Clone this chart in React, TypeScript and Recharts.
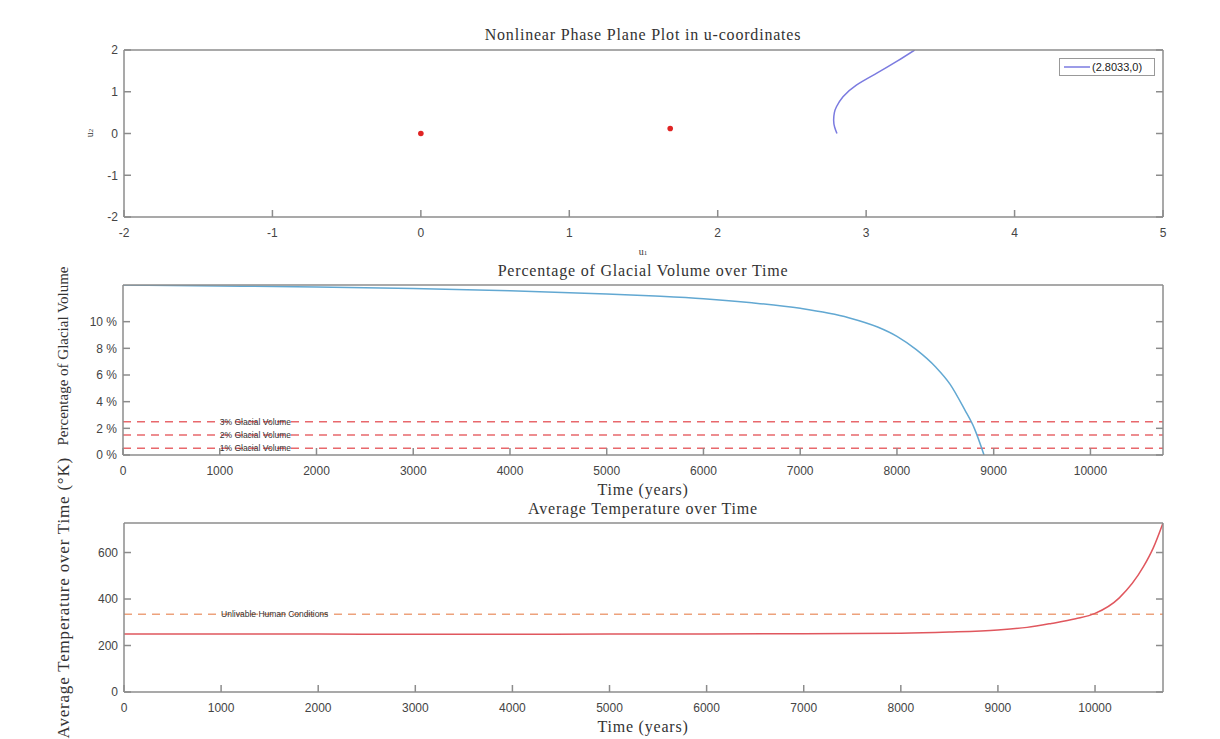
import React from "react";
import {
  ComposedChart,
  Line,
  Scatter,
  XAxis,
  YAxis,
  ReferenceLine,
  ReferenceDot,
} from "recharts";

// phase plane (u-coordinates)
const u1Ticks = [-2, -1, 0, 1, 2, 3, 4, 5];
const u2Ticks = [-2, -1, 0, 1, 2];
const equilibria = [
  { u1: 0, u2: 0 },
  { u1: 1.68, u2: 0.12 },
];
const trajU1 = [2.8033, 2.788, 2.781, 2.786, 2.8, 2.844, 2.934, 3.069, 3.203, 3.327];
const trajU2 = [0, 0.15, 0.32, 0.5, 0.64, 0.88, 1.16, 1.44, 1.72, 2.0];
const trajectory = trajU1.map((u1, i) => ({ u1, u2: trajU2[i] }));
const trajLabel = "(2.8033,0)";

// glacial volume
const yearTicks = [0, 1000, 2000, 3000, 4000, 5000, 6000, 7000, 8000, 9000, 10000];
const volYears = [0, 1000, 2000, 3000, 4000, 5000, 5500, 6000, 6500, 7000, 7500, 7800, 8000, 8200, 8400, 8550, 8700, 8800, 8900];
const volPct = [12.75, 12.68, 12.6, 12.48, 12.32, 12.08, 11.92, 11.72, 11.42, 11.0, 10.3, 9.6, 8.9, 7.9, 6.6, 5.3, 3.4, 2.0, 0.0];
const volume = volYears.map((t, i) => ({ t, v: volPct[i] }));
const pctTicks = [0, 2, 4, 6, 8, 10];
const thresholds = [
  { y: 2.5, label: "3% Glacial Volume" },
  { y: 1.5, label: "2% Glacial Volume" },
  { y: 0.5, label: "1% Glacial Volume" },
];

// temperature
const tempYears = [0, 1000, 2000, 3000, 4000, 5000, 6000, 7000, 8000, 8500, 9000, 9300, 9550, 9800, 10000, 10250, 10500, 10600, 10700];
const tempK = [250, 250, 249, 248, 248, 249, 250, 251, 253, 258, 267, 278, 295, 315, 338, 405, 540, 620, 727];
const temperature = tempYears.map((t, i) => ({ t, k: tempK[i] }));
const tempTicks = [0, 200, 400, 600];
const unlivable = 335;

const axisColor = "#8c8c8c";
const sans = "Liberation Sans, Arial, sans-serif";
const serif = "Liberation Serif, Times New Roman, serif";
const tickStyle = { fill: "#444", fontSize: 12, fontFamily: sans };
const smallLabel = { fontSize: 8.5, fill: "#333", fontFamily: sans };
const blank = () => "";

// MATLAB-style box: labelled bottom/left axes, bare top/right axes, ticks pointing inward
function boxAxes({ xDomain, xTicks, yDomain, yTicks, yFmt, xKey, yKey }: any) {
  return [
    <XAxis key="xb" xAxisId="b" type="number" dataKey={xKey} domain={xDomain} ticks={xTicks} allowDataOverflow
      height={30} tickSize={-7} tickMargin={18} tick={tickStyle} stroke={axisColor} strokeWidth={1.5} />,
    <XAxis key="xt" xAxisId="t" type="number" orientation="top" domain={xDomain} ticks={xTicks} allowDataOverflow
      height={1} tickSize={-7} tickFormatter={blank} stroke={axisColor} strokeWidth={1.5} />,
    <YAxis key="yl" yAxisId="l" type="number" dataKey={yKey} domain={yDomain} ticks={yTicks} allowDataOverflow
      width={40} tickSize={-7} tickMargin={13} tick={tickStyle} tickFormatter={yFmt} stroke={axisColor} strokeWidth={1.5} />,
    <YAxis key="yr" yAxisId="r" type="number" orientation="right" domain={yDomain} ticks={yTicks} allowDataOverflow
      width={1} tickSize={-7} tickFormatter={blank} stroke={axisColor} strokeWidth={1.5} />,
  ];
}

export default function App() {
  return (
    <div style={{ position: "absolute", left: 0, top: 0, width: 1220, height: 739, background: "#fff" }}>
      <div style={{ position: "absolute", left: 0, top: 0 }}>
        <ComposedChart width={1220} height={260} margin={{ top: 49, right: 56, bottom: 13, left: 84 }}>
          {boxAxes({ xDomain: [-2, 5], xTicks: u1Ticks, yDomain: [-2, 2], yTicks: u2Ticks, xKey: "u1", yKey: "u2" })}
          <Scatter name="eq" data={equilibria} xAxisId="b" yAxisId="l" isAnimationActive={false}
            shape={(p: any) => <circle cx={p.cx} cy={p.cy} r={2.8} fill="#e02424" />} />
          <Line name={trajLabel} data={trajectory} dataKey="u2" xAxisId="b" yAxisId="l" type="natural" stroke="#7b7be0"
            strokeWidth={1.5} dot={false} isAnimationActive={false} />
        </ComposedChart>
      </div>

      <div style={{ position: "absolute", left: 1059, top: 58, border: "1px solid #999", background: "#fff", width: 96, height: 18,
        display: "flex", alignItems: "center", boxSizing: "border-box" }}>
        <svg width={32} height={10}>
          <line x1={4} y1={5} x2={30} y2={5} stroke="#7b7be0" strokeWidth={1.5} />
        </svg>
        <span style={{ fontSize: 11, fontFamily: sans, color: "#222" }}>{trajLabel}</span>
      </div>

      <div style={{ position: "absolute", left: 0, top: 255 }}>
        <ComposedChart width={1220} height={230} margin={{ top: 29, right: 56, bottom: 0, left: 83 }}>
          {boxAxes({ xDomain: [0, 10750], xTicks: yearTicks, yDomain: [0, 12.75], yTicks: pctTicks, yFmt: (v: number) => `${v} %`, xKey: "t", yKey: "v" })}
          {thresholds.map((th) => (
            <ReferenceLine key={th.y} y={th.y} xAxisId="b" yAxisId="l" stroke="#e8686c" strokeWidth={1.5} strokeDasharray="8 6" />
          ))}
          {thresholds.map((th) => (
            <ReferenceDot key={"l" + th.y} x={1000} y={th.y} r={0} xAxisId="b" yAxisId="l" stroke="none"
              label={{ value: th.label, position: "right", offset: 0, style: smallLabel }} />
          ))}
          <Line data={volume} dataKey="v" xAxisId="b" yAxisId="l" type="monotone" stroke="#62a8d2" strokeWidth={1.5}
            dot={false} isAnimationActive={false} />
        </ComposedChart>
      </div>

      <div style={{ position: "absolute", left: 0, top: 495 }}>
        <ComposedChart width={1220} height={244} margin={{ top: 27, right: 56, bottom: 17, left: 84 }}>
          {boxAxes({ xDomain: [0, 10700], xTicks: yearTicks, yDomain: [0, 727], yTicks: tempTicks, xKey: "t", yKey: "k" })}
          <ReferenceLine y={unlivable} xAxisId="b" yAxisId="l" stroke="#eda27c" strokeWidth={1.5} strokeDasharray="8 6" />
          <ReferenceDot x={1000} y={unlivable} r={0} xAxisId="b" yAxisId="l" stroke="none"
            label={{ value: "Unlivable Human Conditions", position: "right", offset: 0, style: smallLabel }} />
          <Line data={temperature} dataKey="k" xAxisId="b" yAxisId="l" type="monotone" stroke="#e0575e" strokeWidth={1.5}
            dot={false} isAnimationActive={false} />
        </ComposedChart>
      </div>

      <svg width={1220} height={739} style={{ position: "absolute", left: 0, top: 0, pointerEvents: "none" }}
        fontFamily={serif} fill="#333">
        <text x={643} y={34} textAnchor="middle" dominantBaseline="central" fontSize={16} letterSpacing={0.8}>
          Nonlinear Phase Plane Plot in u-coordinates
        </text>
        <text x={643} y={251} textAnchor="middle" dominantBaseline="central" fontSize={10}>
          u<tspan fontSize={7} dy={2}>1</tspan>
        </text>
        <text transform="translate(89,133) rotate(-90)" textAnchor="middle" dominantBaseline="central" fontSize={10}>
          u<tspan fontSize={7} dy={2}>2</tspan>
        </text>

        <text x={643} y={270} textAnchor="middle" dominantBaseline="central" fontSize={16} letterSpacing={0.8}>
          Percentage of Glacial Volume over Time
        </text>
        <text x={643} y={489} textAnchor="middle" dominantBaseline="central" fontSize={16} letterSpacing={0.8}>
          Time (years)
        </text>
        <text transform="translate(63,356) rotate(-90)" textAnchor="middle" dominantBaseline="central" fontSize={15}>
          Percentage of Glacial Volume
        </text>

        <text x={643} y={508} textAnchor="middle" dominantBaseline="central" fontSize={16} letterSpacing={0.8}>
          Average Temperature over Time
        </text>
        <text x={643} y={726} textAnchor="middle" dominantBaseline="central" fontSize={16} letterSpacing={0.8}>
          Time (years)
        </text>
        <text transform="translate(63,457) rotate(-90)" textAnchor="end" dominantBaseline="central" fontSize={17} letterSpacing={0.8}>
          Average Temperature over Time (°K)
        </text>
      </svg>
    </div>
  );
}
